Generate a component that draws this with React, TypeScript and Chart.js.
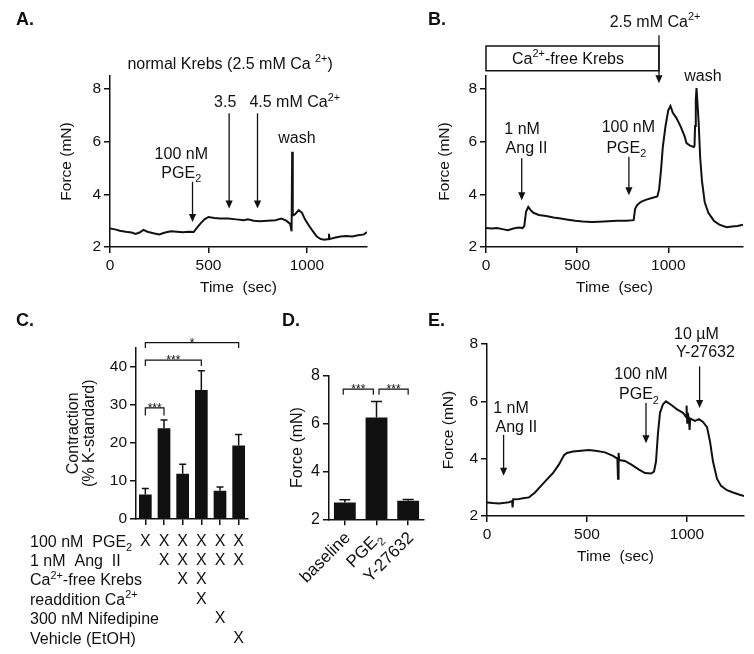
import React, { useEffect, useRef } from 'react';
import { Chart, registerables } from 'chart.js';

Chart.register(...registerables);

const FONT = '"Liberation Sans", Arial, Helvetica, sans-serif';
const INK = '#111111';

// ---------- tick values ----------
const timeTicks = [0, 500, 1000];
const forceTicks = [2, 4, 6, 8];
const contractionTicks = [0, 10, 20, 30, 40];

// ---------- Panel A : normal Krebs trace ----------
const timeA = [0, 20, 50, 80, 110, 130, 150, 170, 190, 220, 250, 280, 310, 340, 370, 400, 425, 440, 460, 480, 500, 530, 560, 600, 640, 680, 700, 730, 760, 800, 840, 870, 895, 915, 922, 925, 928, 940, 958, 975, 990, 1010, 1030, 1050, 1070, 1090, 1110, 1112, 1115, 1140, 1170, 1200, 1230, 1260, 1290, 1305];
const forceA = [2.70, 2.68, 2.62, 2.58, 2.55, 2.50, 2.55, 2.65, 2.58, 2.52, 2.48, 2.55, 2.60, 2.58, 2.56, 2.58, 2.57, 2.72, 2.90, 3.05, 3.14, 3.10, 3.08, 3.08, 3.05, 3.02, 3.05, 3.00, 2.98, 3.00, 3.02, 3.08, 3.00, 2.88, 2.60, 5.62, 3.20, 3.25, 3.40, 3.30, 3.05, 2.82, 2.60, 2.40, 2.30, 2.28, 2.30, 2.50, 2.30, 2.35, 2.40, 2.42, 2.40, 2.45, 2.48, 2.57];

// ---------- Panel B : Ca2+-free Krebs trace ----------
const timeB = [0, 30, 60, 90, 120, 150, 180, 200, 210, 220, 232, 245, 260, 290, 330, 370, 410, 450, 490, 530, 580, 620, 670, 720, 770, 810, 818, 830, 850, 880, 910, 940, 950, 960, 970, 985, 1000, 1012, 1025, 1045, 1070, 1090, 1100, 1120, 1140, 1144, 1147, 1151, 1155, 1160, 1167, 1175, 1185, 1200, 1220, 1250, 1280, 1320, 1350, 1380, 1410];
const forceB = [2.72, 2.70, 2.72, 2.68, 2.64, 2.70, 2.74, 2.72, 2.80, 3.35, 3.52, 3.40, 3.30, 3.22, 3.18, 3.12, 3.08, 3.04, 3.00, 2.97, 2.95, 2.96, 2.98, 3.00, 3.00, 3.02, 3.45, 3.60, 3.72, 3.80, 3.86, 3.92, 4.20, 4.90, 5.80, 6.60, 7.20, 7.36, 7.10, 6.90, 6.55, 6.20, 5.95, 5.85, 5.80, 5.85, 6.60, 7.60, 8.04, 7.50, 6.70, 5.40, 4.50, 3.70, 3.30, 3.00, 2.85, 2.75, 2.78, 2.80, 2.85];

// ---------- Panel C : contraction bars ----------
const conditionsC = ['PGE2', 'PGE2+AngII', 'Ca-free', 'Ca readdition', 'Nifedipine', 'Vehicle'];
const contractionC = [6.4, 23.8, 11.9, 33.9, 7.4, 19.3];
const semC = [1.6, 2.2, 2.5, 5.0, 1.0, 2.9];
const rowLabelsC = ['100 nM  PGE_2', '1 nM  Ang  II', 'Ca^{2+}-free Krebs', 'readdition Ca^{2+}', '300 nM Nifedipine', 'Vehicle (EtOH)'];
const rowMarksC = [
  [1, 1, 1, 1, 1, 1],
  [0, 1, 1, 1, 1, 1],
  [0, 0, 1, 1, 0, 0],
  [0, 0, 0, 1, 0, 0],
  [0, 0, 0, 0, 1, 0],
  [0, 0, 0, 0, 0, 1],
];
const bracketsC = [
  { a: 0, b: 1, f: 29.2, leg: 2.0, s: '***' },
  { a: 0, b: 3, f: 41.7, leg: 1.5, s: '***' },
  { a: 0, b: 5, f: 46.3, leg: 1.4, s: '*' },
];

// ---------- Panel D : force bars ----------
const groupsD = ['baseline', 'PGE_2', 'Y-27632'];
const forceD = [2.70, 6.25, 2.77];
const semD = [0.12, 0.67, 0.06];
const bracketsD = [
  { a: -0.05, b: 0.9, f: 7.44, leg: 0.24, s: '***' },
  { a: 1.08, b: 2.0, f: 7.44, leg: 0.24, s: '***' },
];

// ---------- Panel E : Y-27632 trace ----------
const timeE = [0, 30, 60, 90, 110, 125, 128, 131, 150, 180, 210, 240, 270, 300, 330, 360, 385, 400, 430, 470, 510, 550, 590, 630, 652, 655, 658, 661, 690, 720, 760, 790, 820, 835, 845, 855, 865, 880, 895, 920, 950, 980, 995, 998, 1001, 1004, 1010, 1013, 1016, 1040, 1060, 1080, 1100, 1115, 1130, 1150, 1170, 1200, 1230, 1260, 1285];
const forceE = [2.47, 2.45, 2.44, 2.46, 2.48, 2.52, 2.30, 2.58, 2.58, 2.62, 2.65, 2.82, 3.05, 3.28, 3.50, 3.80, 4.12, 4.20, 4.25, 4.28, 4.30, 4.27, 4.22, 4.10, 4.00, 3.30, 4.20, 3.95, 3.92, 3.80, 3.62, 3.50, 3.48, 3.55, 3.90, 4.90, 5.60, 5.90, 6.00, 5.88, 5.72, 5.60, 5.45, 5.85, 5.25, 5.60, 5.35, 5.00, 5.40, 5.32, 5.38, 5.28, 5.10, 4.60, 3.90, 3.30, 3.05, 2.90, 2.82, 2.75, 2.70];

// ---------- annotations (data units) ----------
type Ann =
  | { kind: 'text'; t: number; f: number; s: string; align?: 'left' | 'center' | 'right' }
  | { kind: 'arrow'; t: number; f1: number; f2: number }
  | { kind: 'box'; t1: number; t2: number; f1: number; f2: number };

const annA: Ann[] = [
  { kind: 'text', t: 610, f: 9.0, s: 'normal Krebs (2.5 mM Ca ^{2+})' },
  { kind: 'text', t: 362, f: 5.56, s: '100 nM' },
  { kind: 'text', t: 362, f: 4.86, s: 'PGE_2' },
  { kind: 'arrow', t: 419, f1: 4.48, f2: 2.95 },
  { kind: 'text', t: 585, f: 7.53, s: '3.5' },
  { kind: 'arrow', t: 605, f1: 7.08, f2: 3.46 },
  { kind: 'text', t: 708, f: 7.53, s: '4.5 mM Ca^{2+}', align: 'left' },
  { kind: 'arrow', t: 749, f1: 7.08, f2: 3.46 },
  { kind: 'text', t: 949, f: 6.17, s: 'wash' },
];

const annB: Ann[] = [
  { kind: 'box', t1: 0, t2: 949, f1: 8.70, f2: 9.64 },
  { kind: 'text', t: 450, f: 9.17, s: 'Ca^{2+}-free Krebs' },
  { kind: 'text', t: 927, f: 10.58, s: '2.5 mM Ca^{2+}' },
  { kind: 'arrow', t: 949, f1: 10.05, f2: 8.22 },
  { kind: 'text', t: 1190, f: 8.53, s: 'wash' },
  { kind: 'text', t: 198, f: 6.51, s: '1 nM' },
  { kind: 'text', t: 222, f: 5.81, s: 'Ang II' },
  { kind: 'arrow', t: 196, f1: 5.37, f2: 3.78 },
  { kind: 'text', t: 781, f: 6.60, s: '100 nM' },
  { kind: 'text', t: 770, f: 5.81, s: 'PGE_2' },
  { kind: 'arrow', t: 784, f1: 5.43, f2: 3.97 },
];

const annE: Ann[] = [
  { kind: 'text', t: 120, f: 5.80, s: '1 nM' },
  { kind: 'text', t: 147, f: 5.12, s: 'Ang II' },
  { kind: 'arrow', t: 83, f1: 4.83, f2: 3.40 },
  { kind: 'text', t: 770, f: 6.99, s: '100 nM' },
  { kind: 'text', t: 760, f: 6.27, s: 'PGE_2' },
  { kind: 'arrow', t: 795, f1: 5.94, f2: 4.54 },
  { kind: 'text', t: 1047, f: 8.36, s: '10 \u00b5M' },
  { kind: 'text', t: 1092, f: 7.75, s: 'Y-27632' },
  { kind: 'arrow', t: 1063, f1: 7.22, f2: 5.77 },
];

// ---------- drawing helpers ----------
type Seg = { t: string; m: number };
function segments(s: string): Seg[] {
  const out: Seg[] = [];
  let cur = '';
  let i = 0;
  while (i < s.length) {
    const c = s[i];
    if (c === '_' || c === '^') {
      if (cur) { out.push({ t: cur, m: 0 }); cur = ''; }
      let txt = '';
      if (s[i + 1] === '{') {
        const j = s.indexOf('}', i + 2);
        txt = s.slice(i + 2, j);
        i = j + 1;
      } else {
        txt = s[i + 1];
        i += 2;
      }
      out.push({ t: txt, m: c === '_' ? 1 : 2 });
    } else {
      cur += c;
      i++;
    }
  }
  if (cur) out.push({ t: cur, m: 0 });
  return out;
}

function drawRich(ctx: CanvasRenderingContext2D, s: string, x: number, y: number, align: string, size: number, weight = 'normal') {
  const segs = segments(s);
  const small = size * 0.68;
  const fontFor = (m: number) => `${weight} ${m ? small : size}px ${FONT}`;
  let w = 0;
  const ws = segs.map((sg) => {
    ctx.font = fontFor(sg.m);
    const mw = ctx.measureText(sg.t).width;
    w += mw;
    return mw;
  });
  let cx = align === 'center' ? x - w / 2 : align === 'right' ? x - w : x;
  const base = y + size * 0.36;
  ctx.textAlign = 'left';
  ctx.textBaseline = 'alphabetic';
  ctx.fillStyle = INK;
  segs.forEach((sg, k) => {
    ctx.font = fontFor(sg.m);
    const dy = sg.m === 1 ? size * 0.28 : sg.m === 2 ? -size * 0.42 : 0;
    ctx.fillText(sg.t, cx, base + dy);
    cx += ws[k];
  });
}

function drawArrow(ctx: CanvasRenderingContext2D, x: number, y1: number, y2: number) {
  const head = 8;
  const hw = 3.6;
  ctx.strokeStyle = INK;
  ctx.fillStyle = INK;
  ctx.lineWidth = 1.3;
  ctx.beginPath();
  ctx.moveTo(x, y1);
  ctx.lineTo(x, y2 - head + 1);
  ctx.stroke();
  ctx.beginPath();
  ctx.moveTo(x - hw, y2 - head);
  ctx.lineTo(x + hw, y2 - head);
  ctx.lineTo(x, y2);
  ctx.closePath();
  ctx.fill();
}

function drawAnns(chart: any, anns: Ann[]) {
  const ctx: CanvasRenderingContext2D = chart.ctx;
  const X = (v: number) => chart.scales.x.getPixelForValue(v);
  const Y = (v: number) => chart.scales.y.getPixelForValue(v);
  ctx.save();
  anns.forEach((a) => {
    if (a.kind === 'text') drawRich(ctx, a.s, X(a.t), Y(a.f), a.align || 'center', 16);
    else if (a.kind === 'arrow') drawArrow(ctx, X(a.t), Y(a.f1), Y(a.f2));
    else {
      ctx.strokeStyle = INK;
      ctx.lineWidth = 1.5;
      const x1 = X(a.t1), x2 = X(a.t2), y1 = Y(a.f2), y2 = Y(a.f1);
      ctx.strokeRect(x1, y1, x2 - x1, y2 - y1);
    }
  });
  ctx.restore();
}

function drawErrorBars(chart: any, vals: number[], sems: number[], cap: number) {
  const ctx: CanvasRenderingContext2D = chart.ctx;
  const X = (v: number) => chart.scales.x.getPixelForValue(v);
  const Y = (v: number) => chart.scales.y.getPixelForValue(v);
  ctx.save();
  ctx.strokeStyle = INK;
  ctx.lineWidth = 1.5;
  vals.forEach((v, i) => {
    const x = X(i);
    const yb = Y(v);
    const yt = Y(v + sems[i]);
    ctx.beginPath();
    ctx.moveTo(x, yb);
    ctx.lineTo(x, yt);
    ctx.moveTo(x - cap / 2, yt);
    ctx.lineTo(x + cap / 2, yt);
    ctx.stroke();
  });
  ctx.restore();
}

function drawBrackets(chart: any, list: { a: number; b: number; f: number; leg: number; s: string }[]) {
  const ctx: CanvasRenderingContext2D = chart.ctx;
  const X = (v: number) => chart.scales.x.getPixelForValue(v);
  const Y = (v: number) => chart.scales.y.getPixelForValue(v);
  ctx.save();
  ctx.strokeStyle = INK;
  ctx.fillStyle = INK;
  ctx.lineWidth = 1.2;
  list.forEach((br) => {
    const x1 = X(br.a), x2 = X(br.b), y = Y(br.f), yl = Y(br.f - br.leg);
    ctx.beginPath();
    ctx.moveTo(x1, yl);
    ctx.lineTo(x1, y);
    ctx.lineTo(x2, y);
    ctx.lineTo(x2, yl);
    ctx.stroke();
    ctx.font = `12px ${FONT}`;
    ctx.textAlign = 'center';
    ctx.textBaseline = 'alphabetic';
    ctx.fillText(br.s, (x1 + x2) / 2, y + 4);
  });
  ctx.restore();
}

const BORDER = { display: true, color: INK, width: 1.5 };
const GRID = { display: true, drawOnChartArea: false, drawTicks: true, tickLength: 6, color: INK, lineWidth: 1.5 };
const fixTicks = (vals: number[]) => (s: any) => { s.ticks = vals.map((v) => ({ value: v })); };

function traceConfig(time: number[], force: number[], o: any): any {
  return {
    type: 'line',
    data: {
      datasets: [{
        data: time.map((t, i) => ({ x: t, y: force[i] })),
        borderColor: INK,
        borderWidth: 2,
        pointRadius: 0,
        tension: 0,
        fill: false,
      }],
    },
    options: {
      animation: false,
      responsive: false,
      devicePixelRatio: 1,
      layout: { padding: o.pad },
      plugins: { legend: { display: false }, tooltip: { enabled: false } },
      scales: {
        x: {
          type: 'linear', min: 0, max: o.xMax,
          border: BORDER, grid: GRID,
          ticks: { maxRotation: 0, autoSkip: false, color: INK, font: { family: FONT, size: 15.5 }, padding: 3, callback: (v: any) => String(v) },
          afterBuildTicks: fixTicks(timeTicks),
          title: { display: true, text: 'Time  (sec)', color: INK, font: { family: FONT, size: 15.5 }, padding: { top: 4, bottom: 4 } },
          afterFit: (s: any) => { s.height = o.xH; },
        },
        y: {
          min: 2, max: o.yMax,
          border: BORDER, grid: GRID,
          ticks: { autoSkip: false, color: INK, font: { family: FONT, size: 15.5 }, padding: 3, callback: (v: any) => String(v) },
          afterBuildTicks: fixTicks(forceTicks),
          title: { display: true, text: 'Force (mN)', color: INK, font: { family: FONT, size: 15.5 }, padding: { top: 4, bottom: 4 } },
          afterFit: (s: any) => { s.width = o.yW; },
        },
      },
    },
    plugins: [{ id: 'ann', afterDraw: (chart: any) => o.draw(chart) }],
  };
}

function panelLabel(chart: any, s: string, x: number, y: number) {
  const ctx = chart.ctx;
  ctx.save();
  drawRich(ctx, s, x, y, 'left', 18, 'bold');
  ctx.restore();
}

export default function App() {
  const refA = useRef<HTMLCanvasElement>(null);
  const refB = useRef<HTMLCanvasElement>(null);
  const refC = useRef<HTMLCanvasElement>(null);
  const refD = useRef<HTMLCanvasElement>(null);
  const refE = useRef<HTMLCanvasElement>(null);

  useEffect(() => {
    const charts: Chart[] = [];

    charts.push(new Chart(refA.current as HTMLCanvasElement, traceConfig(timeA, forceA, {
      xMax: 1305, yMax: 8.5, yW: 57, xH: 54.3,
      pad: { left: 53, top: 76, right: 8, bottom: 8.7 },
      draw: (c: any) => { drawAnns(c, annA); panelLabel(c, 'A.', 16, 19); },
    })));

    charts.push(new Chart(refB.current as HTMLCanvasElement, traceConfig(timeB, forceB, {
      xMax: 1410, yMax: 8.5, yW: 55, xH: 54.3,
      pad: { left: 56, top: 76, right: 11, bottom: 8.7 },
      draw: (c: any) => { drawAnns(c, annB); panelLabel(c, 'B.', 53, 19); },
    })));

    charts.push(new Chart(refC.current as HTMLCanvasElement, {
      type: 'bar',
      data: {
        labels: conditionsC,
        datasets: [{ data: contractionC, backgroundColor: INK, borderWidth: 0, barPercentage: 0.68, categoryPercentage: 1 }],
      },
      options: {
        animation: false, responsive: false, devicePixelRatio: 1,
        layout: { padding: { left: 62, top: 47.6, right: 17, bottom: 0 } },
        plugins: { legend: { display: false }, tooltip: { enabled: false } },
        scales: {
          x: {
            border: BORDER, grid: { ...GRID, offset: false },
            ticks: { display: false },
            afterFit: (s: any) => { s.height = 135; },
          },
          y: {
            min: 0, max: 45,
            border: BORDER, grid: GRID,
            ticks: { autoSkip: false, color: INK, font: { family: FONT, size: 15.5 }, padding: 3, callback: (v: any) => String(v) },
            afterBuildTicks: fixTicks(contractionTicks),
            title: { display: true, text: ['Contraction', '(% K-standard)'], color: INK, font: { family: FONT, size: 16, lineHeight: 1.0 }, padding: { top: 4, bottom: 4 } },
            afterFit: (s: any) => { s.width = 74; },
          },
        },
      },
      plugins: [{
        id: 'c', afterDraw: (chart: any) => {
          drawErrorBars(chart, contractionC, semC, 7);
          drawBrackets(chart, bracketsC);
          const ctx = chart.ctx;
          const bottom = chart.chartArea.bottom;
          ctx.save();
          rowLabelsC.forEach((lab, r) => {
            const y = bottom + 22 + r * 19.35;
            drawRich(ctx, lab, 30, y, 'left', 16);
            rowMarksC[r].forEach((m, i) => {
              if (m) drawRich(ctx, 'X', chart.scales.x.getPixelForValue(i), y - 1, 'center', 16);
            });
          });
          ctx.restore();
          panelLabel(chart, 'C.', 16, 20);
        },
      }],
    } as any));

    charts.push(new Chart(refD.current as HTMLCanvasElement, {
      type: 'bar',
      data: {
        labels: groupsD,
        datasets: [{ data: forceD, backgroundColor: INK, borderWidth: 0, barPercentage: 0.69, categoryPercentage: 1 }],
      },
      options: {
        animation: false, responsive: false, devicePixelRatio: 1,
        layout: { padding: { left: 14, top: 75.7, right: 6, bottom: 0 } },
        plugins: { legend: { display: false }, tooltip: { enabled: false } },
        scales: {
          x: {
            border: BORDER, grid: { ...GRID, offset: false },
            ticks: { display: false },
            afterFit: (s: any) => { s.height = 134.7; },
          },
          y: {
            min: 2, max: 8,
            border: BORDER, grid: GRID,
            ticks: { autoSkip: false, color: INK, font: { family: FONT, size: 16 }, padding: 3, callback: (v: any) => String(v) },
            afterBuildTicks: fixTicks(forceTicks),
            title: { display: true, text: 'Force (mN)', color: INK, font: { family: FONT, size: 16 }, padding: { top: 4, bottom: 4 } },
            afterFit: (s: any) => { s.width = 45; },
          },
        },
      },
      plugins: [{
        id: 'd', afterDraw: (chart: any) => {
          drawErrorBars(chart, forceD, semD, 11);
          drawBrackets(chart, bracketsD);
          const ctx = chart.ctx;
          const bottom = chart.chartArea.bottom;
          groupsD.forEach((g, i) => {
            ctx.save();
            ctx.translate(chart.scales.x.getPixelForValue(i) + 2, bottom + 15);
            ctx.rotate(-Math.PI / 4);
            drawRich(ctx, g, 0, 0, 'right', 17);
            ctx.restore();
          });
          panelLabel(chart, 'D.', 12, 20);
        },
      }],
    } as any));

    charts.push(new Chart(refE.current as HTMLCanvasElement, traceConfig(timeE, forceE, {
      xMax: 1285, yMax: 8, yW: 52, xH: 54,
      pad: { left: 15, top: 44, right: 10, bottom: 84 },
      draw: (c: any) => { drawAnns(c, annE); panelLabel(c, 'E.', 8, 20); },
    })));

    return () => charts.forEach((c) => c.destroy());
  }, []);

  const cv = (left: number, top: number, w: number, h: number): React.CSSProperties => ({
    position: 'absolute', left, top, width: w, height: h,
  });

  return (
    <div style={{ position: 'absolute', left: 0, top: 0, width: 754, height: 654, background: '#ffffff', overflow: 'hidden' }}>
      <canvas ref={refA} width={375} height={310} style={cv(0, 0, 375, 310)} />
      <canvas ref={refB} width={379} height={310} style={cv(375, 0, 379, 310)} />
      <canvas ref={refC} width={265} height={354} style={cv(0, 300, 265, 354)} />
      <canvas ref={refD} width={160} height={354} style={cv(270, 300, 160, 354)} />
      <canvas ref={refE} width={334} height={354} style={cv(420, 300, 334, 354)} />
    </div>
  );
}
